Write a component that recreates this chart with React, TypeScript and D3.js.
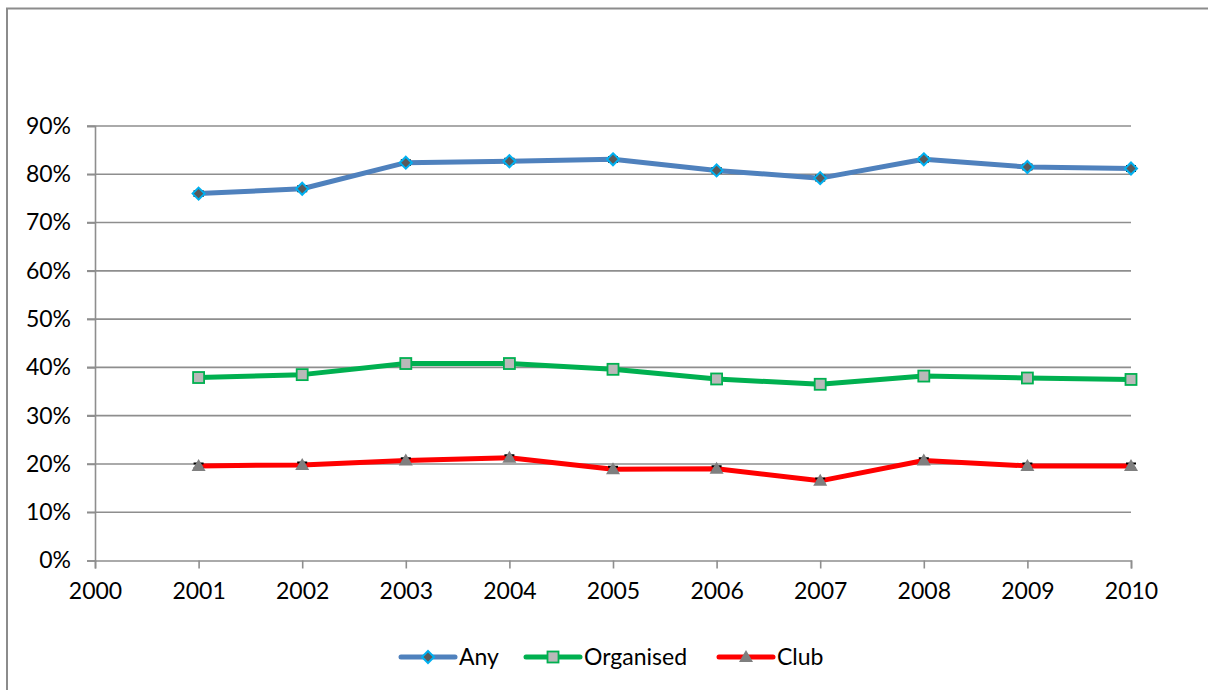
import { useEffect, useRef } from "react";
import * as d3 from "d3";

const YEARS = [2001, 2002, 2003, 2004, 2005, 2006, 2007, 2008, 2009, 2010];
const ANY = [76.0, 77.0, 82.4, 82.7, 83.1, 80.8, 79.2, 83.1, 81.5, 81.2];
const ORGANISED = [37.9, 38.5, 40.8, 40.8, 39.6, 37.6, 36.5, 38.2, 37.8, 37.5];
const CLUB = [19.6, 19.8, 20.7, 21.3, 18.9, 19.0, 16.5, 20.7, 19.6, 19.6];
const ERR = 0.5;
const Y_TICKS = [0, 10, 20, 30, 40, 50, 60, 70, 80, 90];
const X_TICKS = [2000, 2001, 2002, 2003, 2004, 2005, 2006, 2007, 2008, 2009, 2010];

const FONT = "Lato, 'Open Sans', sans-serif";
const FONT_SIZE = "23px";

type Series = { name: string; values: number[]; color: string; marker: "diamond" | "square" | "triangle" };

const SERIES: Series[] = [
  { name: "Any", values: ANY, color: "#4F81BD", marker: "diamond" },
  { name: "Organised", values: ORGANISED, color: "#00B050", marker: "square" },
  { name: "Club", values: CLUB, color: "#FF0000", marker: "triangle" },
];

function drawMarker(g: d3.Selection<SVGGElement, unknown, null, undefined>, kind: Series["marker"], x: number, y: number) {
  if (kind === "diamond") {
    g.append("path")
      .attr("d", `M${x},${y - 6}L${x + 6},${y}L${x},${y + 6}L${x - 6},${y}Z`)
      .attr("fill", "#5a5a5a")
      .attr("stroke", "#00B0F0")
      .attr("stroke-width", 2);
  } else if (kind === "square") {
    g.append("rect")
      .attr("x", x - 5.5)
      .attr("y", y - 5.5)
      .attr("width", 11)
      .attr("height", 11)
      .attr("fill", "#b9b9b9")
      .attr("stroke", "#00B050")
      .attr("stroke-width", 1.8);
  } else {
    g.append("path")
      .attr("d", `M${x},${y - 7}L${x + 7},${y + 5}L${x - 7},${y + 5}Z`)
      .attr("fill", "#7f7f7f");
  }
}

export default function App() {
  const svgRef = useRef<SVGSVGElement>(null);

  useEffect(() => {
    if (!svgRef.current) return;
    const width = 1208;
    const height = 690;
    const svg = d3.select(svgRef.current);
    svg.selectAll("*").remove();
    svg.attr("width", width).attr("height", height);

    // outer frame (only left and top edges are visible)
    svg.append("path")
      .attr("d", `M7,${height + 5}V8.5H${width + 5}`)
      .attr("fill", "none")
      .attr("stroke", "#8c8c8c")
      .attr("stroke-width", 2);

    const x = d3.scaleLinear().domain([2000, 2010]).range([95, 1131]);
    const y = d3.scaleLinear().domain([0, 90]).range([560.5, 126]);

    const g = svg.append("g");

    // gridlines
    g.selectAll("line.grid")
      .data(Y_TICKS.filter((t) => t > 0))
      .enter()
      .append("line")
      .attr("x1", x(2000) - 8)
      .attr("x2", x(2010))
      .attr("y1", (d) => y(d))
      .attr("y2", (d) => y(d))
      .attr("stroke", "#8e8e8e")
      .attr("stroke-width", 1.6);

    // y axis
    g.append("g")
      .attr("transform", `translate(${x(2000)},0)`)
      .call(d3.axisLeft(y).tickValues(Y_TICKS).tickSize(8).tickPadding(16).tickFormat((d) => `${d}%`))
      .call((ax) => ax.select(".domain").attr("stroke", "#8e8e8e").attr("stroke-width", 1.6))
      .call((ax) => ax.selectAll(".tick line").attr("stroke", "#8e8e8e").attr("stroke-width", 1.6))
      .selectAll("text")
      .attr("fill", "#000")
      .style("font-family", FONT)
      .style("font-size", FONT_SIZE);

    // x axis
    g.append("g")
      .attr("transform", `translate(0,${y(0)})`)
      .call(d3.axisBottom(x).tickValues(X_TICKS).tickSize(8).tickPadding(14).tickFormat(d3.format("d")))
      .call((ax) => ax.select(".domain").attr("stroke", "#8e8e8e").attr("stroke-width", 1.6))
      .call((ax) => ax.selectAll(".tick line").attr("stroke", "#8e8e8e").attr("stroke-width", 1.6))
      .selectAll("text")
      .attr("fill", "#000")
      .style("font-family", FONT)
      .style("font-size", FONT_SIZE);

    const line = d3
      .line<number>()
      .x((_, i) => x(YEARS[i]))
      .y((d) => y(d));

    SERIES.forEach((s) => {
      g.append("path")
        .attr("d", line(s.values))
        .attr("fill", "none")
        .attr("stroke", s.color)
        .attr("stroke-width", 5)
        .attr("stroke-linejoin", "round")
        .attr("stroke-linecap", "round");

      const eg = g.append("g");
      s.values.forEach((v, i) => {
        const cx = x(YEARS[i]);
        const y1 = y(v + ERR);
        const y2 = y(v - ERR);
        eg.append("path")
          .attr("d", `M${cx - 5},${y1}H${cx + 5}M${cx},${y1}V${y2}M${cx - 5},${y2}H${cx + 5}`)
          .attr("stroke", "#000")
          .attr("stroke-width", 2)
          .attr("fill", "none");
      });

      const mg = g.append("g");
      s.values.forEach((v, i) => drawMarker(mg, s.marker, x(YEARS[i]), y(v)));
    });

    // legend
    const legendY = 657;
    const legendItems = [
      { s: SERIES[0], x0: 401 },
      { s: SERIES[1], x0: 526 },
      { s: SERIES[2], x0: 719 },
    ];
    const lg = svg.append("g");
    legendItems.forEach(({ s, x0 }) => {
      lg.append("line")
        .attr("x1", x0)
        .attr("x2", x0 + 54)
        .attr("y1", legendY)
        .attr("y2", legendY)
        .attr("stroke", s.color)
        .attr("stroke-width", 5)
        .attr("stroke-linecap", "round");
      drawMarker(lg, s.marker, x0 + 27, legendY);
      lg.append("text")
        .attr("x", x0 + 58)
        .attr("y", legendY)
        .attr("dy", "0.36em")
        .attr("fill", "#000")
        .style("font-family", FONT)
        .style("font-size", FONT_SIZE)
        .text(s.name);
    });
  }, []);

  return (
    <div style={{ position: "absolute", left: 0, top: 0, width: 1208, height: 690, overflow: "hidden", background: "#fff" }}>
      <svg ref={svgRef} style={{ display: "block" }} />
    </div>
  );
}
